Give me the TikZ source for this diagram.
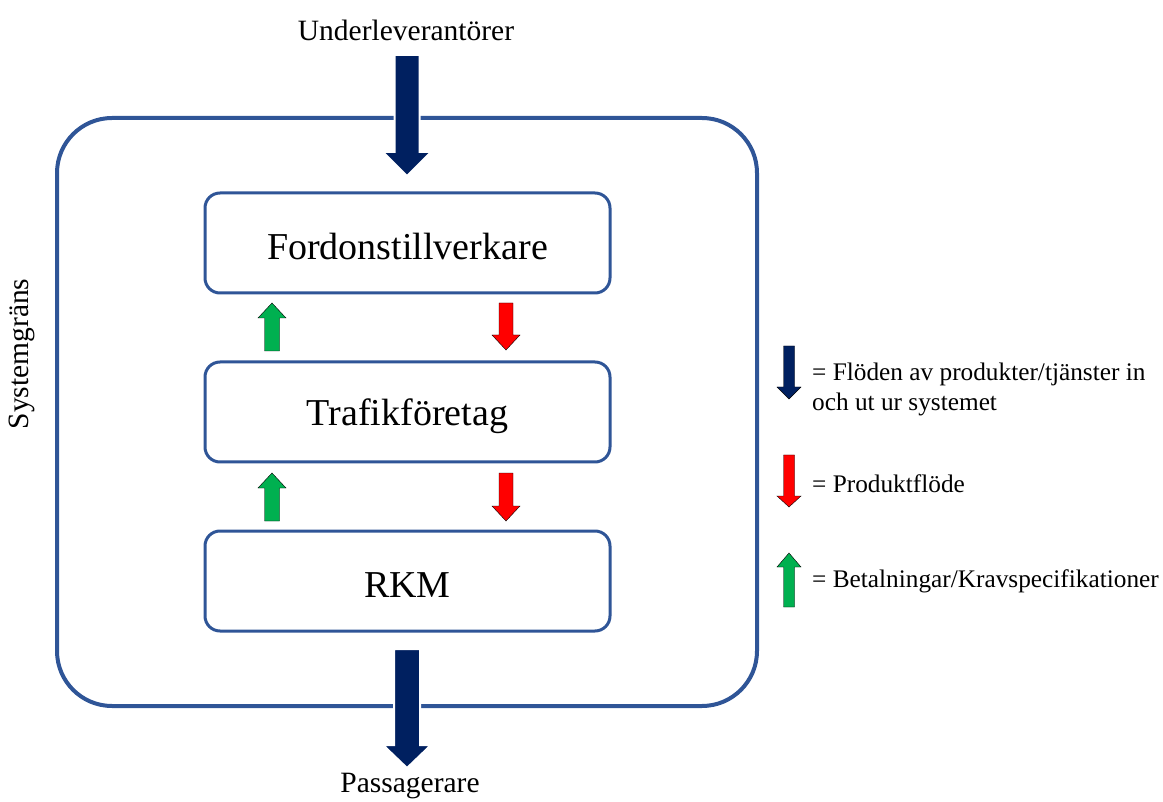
\documentclass[tikz,border=0pt]{standalone}
\usepackage{fontspec}
\setmainfont{Liberation Serif}
\definecolor{navy}{HTML}{002060}
\definecolor{bordblue}{HTML}{2F5597}
\definecolor{gr}{HTML}{00B050}
\definecolor{rd}{HTML}{FF0000}
% down arrow: cx, top, tip, shaft half, head half, head length
\newcommand{\dnarrow}[7]{%
  \filldraw[#7] ({#1-#4},#2) -- ({#1+#4},#2) -- ({#1+#4},{#3-#6}) -- ({#1+#5},{#3-#6}) -- (#1,#3) -- ({#1-#5},{#3-#6}) -- ({#1-#4},{#3-#6}) -- cycle;}
% up arrow: cx, tip, bottom, shaft half, head half, head length
\newcommand{\uparrowx}[7]{%
  \filldraw[#7] ({#1-#4},#3) -- ({#1+#4},#3) -- ({#1+#4},{#2+#6}) -- ({#1+#5},{#2+#6}) -- (#1,#2) -- ({#1-#5},{#2+#6}) -- ({#1-#4},{#2+#6}) -- cycle;}
\begin{document}
\begin{tikzpicture}[x=1pt,y=-1pt,
  innerbox/.style={draw=bordblue,line width=3pt,rounded corners=15pt,fill=white},
  boxtext/.style={font=\fontsize{38}{42}\selectfont},
  lbl/.style={font=\fontsize{29.5}{33}\selectfont},
  leg/.style={font=\fontsize{25.3}{30}\selectfont,anchor=west,align=left,inner sep=2pt},
  big/.style={fill=navy,draw=white,line width=2pt},
  small/.style={draw=none}]
\useasboundingbox (0,0) rectangle (1163,802);
% outer system boundary
\draw[draw=bordblue,line width=4pt,rounded corners=55pt] (57,118) rectangle (757,706);
% inner boxes
\draw[innerbox] (205,193) rectangle (610,293);
\draw[innerbox] (205,362) rectangle (610,462);
\draw[innerbox] (205,531) rectangle (610,631);
\node[boxtext] (ford) at (407.5,247) {Fordonstillverkare};
\node[boxtext] (traf) at (407.5,416) {Trafikföretag};
\node[boxtext] (rkm) at (407.5,585) {RKM};
% labels
\node[lbl] (under) at (406,30) {Underleverantörer};
\node[lbl] (pass) at (410,786) {Passagerare};
\node[lbl,rotate=90] (sys) at (22,354) {Systemgräns};
% big arrows
\dnarrow{407}{55}{176}{12.5}{24}{24}{big}
\dnarrow{407}{649}{768}{13}{24}{23}{big}
% small arrows
\uparrowx{272}{303}{351}{7.5}{14}{15}{fill=gr}
\dnarrow{506}{303}{350}{7}{14}{15}{fill=rd}
\uparrowx{272}{473}{521}{7.5}{14}{15}{fill=gr}
\dnarrow{506}{473}{521}{7}{14}{15}{fill=rd}
% legend
\dnarrow{789}{346}{399}{5.5}{12}{12}{fill=navy}
\dnarrow{789}{455}{507}{5.5}{12}{11}{fill=rd}
\uparrowx{789}{553}{607}{5.5}{12}{14}{fill=gr}
\node[leg] (l1) at (810,389) {= Flöden av produkter/tjänster in\\och ut ur systemet};
\node[leg] (l2) at (810,484) {= Produktflöde};
\node[leg] (l3) at (810,581) {= Betalningar/Kravspecifikationer};
\end{tikzpicture}
\end{document}
